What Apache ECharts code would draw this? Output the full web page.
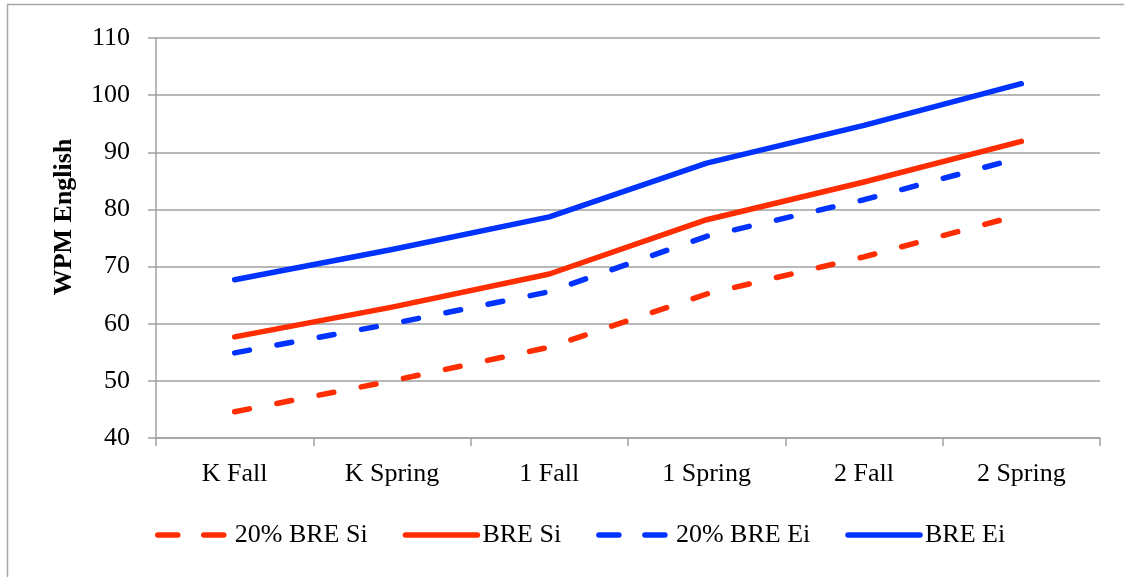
<!DOCTYPE html>
<html>
<head>
<meta charset="utf-8">
<script src="https://cdn.jsdelivr.net/npm/echarts@6/dist/echarts.min.js"></script>
<style>html,body{margin:0;padding:0;background:#fff;}#c{width:1124px;height:577px;}</style>
</head>
<body>
<div id="c"></div>
<script>
var categories = ['K Fall', 'K Spring', '1 Fall', '1 Spring', '2 Fall', '2 Spring'];
var bre20Si = [44.6, 50.0, 55.9, 65.2, 71.7, 79.1];
var breSi   = [57.7, 62.9, 68.7, 78.2, 84.8, 91.9];
var bre20Ei = [54.9, 60.0, 65.6, 75.3, 81.7, 89.1];
var breEi   = [67.7, 73.0, 78.7, 88.1, 94.7, 102.0];
var yTicks = { min: 40, max: 110, interval: 10 };
var seriesNames = ['20% BRE Si', 'BRE Si', '20% BRE Ei', 'BRE Ei'];
var seriesDashed = [true, false, true, false];

var RED = '#ff2d00', BLUE = '#0033ff';
var FONT = '"Liberation Serif", "DejaVu Serif", serif';

function mk(name, data, color, dashed) {
  return {
    name: name, type: 'line', data: data, symbol: 'none', smooth: false,
    lineStyle: { color: color, width: 5.5, type: dashed ? [15, 28] : 'solid', cap: 'round', join: 'round' },
    itemStyle: { color: color },
    animation: false
  };
}

var legendData = seriesNames.map(function (n, i) {
  return { name: n, lineStyle: { type: seriesDashed[i] ? [20, 26] : 'solid' } };
});

var chart = echarts.init(document.getElementById('c'), null, { renderer: 'canvas' });
chart.setOption({
  animation: false,
  backgroundColor: '#fff',
  grid: { left: 156, right: 24, top: 38, bottom: 139, containLabel: false },
  graphic: [
    { type: 'rect', shape: { x: 7.5, y: 4.5, width: 1200, height: 700 },
      style: { fill: 'none', stroke: '#a8a8a8', lineWidth: 1.5 }, silent: true, z: -1 },
    { type: 'text', x: 64, y: 217, rotation: Math.PI / 2,
      style: { text: 'WPM English', font: 'bold 26px ' + FONT, fill: '#000', align: 'center', verticalAlign: 'middle' } }
  ],
  legend: {
    left: 150, top: 517, itemWidth: 72, itemHeight: 14, itemGap: 35,
    lineStyle: { width: 5.5, cap: 'round' },
    itemStyle: { opacity: 0 },
    textStyle: { fontFamily: FONT, fontSize: 26, color: '#000' },
    data: legendData
  },
  xAxis: {
    type: 'category', data: categories, boundaryGap: true,
    axisLine: { lineStyle: { color: '#a0a0a0', width: 1.5 } },
    axisTick: { show: true, length: 8, alignWithLabel: false, lineStyle: { color: '#a0a0a0', width: 1.5 } },
    axisLabel: { margin: 23, fontFamily: FONT, fontSize: 26, color: '#000' },
    splitLine: { show: false }
  },
  yAxis: {
    type: 'value', min: yTicks.min, max: yTicks.max, interval: yTicks.interval,
    axisLine: { show: true, lineStyle: { color: '#a0a0a0', width: 1.5 } },
    axisTick: { show: true, length: 8, lineStyle: { color: '#a0a0a0', width: 1.5 } },
    axisLabel: { margin: 26, fontFamily: FONT, fontSize: 26, color: '#000' },
    splitLine: { show: true, lineStyle: { color: '#a0a0a0', width: 1.5 } }
  },
  series: [
    mk(seriesNames[0], bre20Si, RED, seriesDashed[0]),
    mk(seriesNames[1], breSi, RED, seriesDashed[1]),
    mk(seriesNames[2], bre20Ei, BLUE, seriesDashed[2]),
    mk(seriesNames[3], breEi, BLUE, seriesDashed[3])
  ]
});
</script>
</body>
</html>
